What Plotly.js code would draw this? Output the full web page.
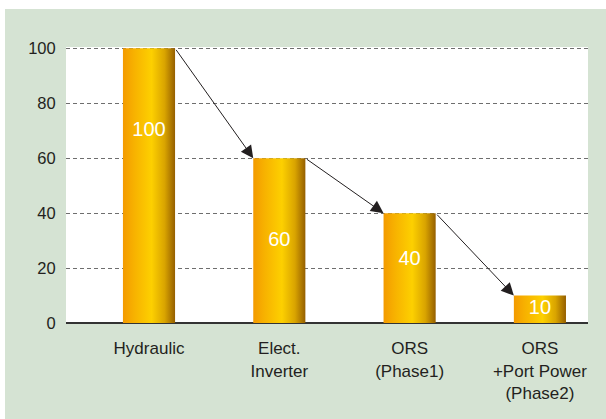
<!DOCTYPE html>
<html>
<head>
<meta charset="utf-8">
<script src="https://cdn.plot.ly/plotly-3.0.1.min.js"></script>
<style>
  html, body { margin: 0; padding: 0; background: #ffffff; width: 606px; height: 419px; overflow: hidden; }
  #chart { position: absolute; left: 5px; top: 9px; width: 601px; height: 410px; }
</style>
</head>
<body>
<div id="chart"></div>
<script>
// Data
const categories = ['Hydraulic', 'Elect.<br>Inverter', 'ORS<br>(Phase1)', 'ORS<br>+Port Power<br>(Phase2)'];
const values = [100, 60, 40, 10];
const labels = ['100', '60', '40', '10'];
const labelPos = [70, 30, 23, 5];
const yTicks = [0, 20, 40, 60, 80, 100];

const halfW = 0.2;
const fontFam = '"Liberation Sans", Arial, Helvetica, sans-serif';
const ink = '#231f20';

const traces = [];
values.forEach((v, i) => {
  traces.push({
    type: 'scatter',
    mode: 'lines',
    x: [i - halfW, i + halfW, i + halfW, i - halfW, i - halfW],
    y: [0, 0, v, v, 0],
    fill: 'toself',
    line: { width: 0, color: 'rgba(0,0,0,0)' },
    fillgradient: {
      type: 'horizontal',
      colorscale: [[0, '#f39a00'], [0.2, '#f7b000'], [0.55, '#fdd000'], [0.8, '#d9a400'], [1, '#955f00']]
    },
    hoverinfo: 'skip',
    showlegend: false
  });
});
traces.push({
  type: 'scatter',
  mode: 'text',
  x: values.map((v, i) => i),
  y: labelPos,
  text: labels,
  textfont: { family: fontFam, size: 20, color: '#ffffff' },
  textposition: 'middle center',
  hoverinfo: 'skip',
  showlegend: false
});

const annotations = [];
for (let i = 0; i < values.length - 1; i++) {
  annotations.push({
    x: i + 1 - halfW, y: values[i + 1],
    ax: i + halfW, ay: values[i],
    xref: 'x', yref: 'y', axref: 'x', ayref: 'y',
    text: '', showarrow: true,
    arrowhead: 2, arrowsize: 2.5, arrowwidth: 1, arrowcolor: ink,
    standoff: 0, startstandoff: 0
  });
}

const layout = {
  width: 601, height: 410,
  margin: { l: 61, r: 18, t: 38, b: 96 },
  paper_bgcolor: '#d5e3d3',
  plot_bgcolor: '#ffffff',
  showlegend: false,
  font: { family: fontFam, color: ink },
  xaxis: {
    range: [-0.637, 3.369],
    tickvals: [0, 1, 2, 3],
    ticktext: categories,
    tickfont: { family: fontFam, size: 17, color: ink },
    showgrid: false, zeroline: false, showline: false,
    ticks: 'outside', ticklen: 10, tickcolor: 'rgba(0,0,0,0)',
    fixedrange: true
  },
  yaxis: {
    range: [0, 100.5],
    tickvals: yTicks,
    tickfont: { family: fontFam, size: 16.5, color: ink },
    showgrid: true, gridcolor: '#6e6e6e', gridwidth: 1, griddash: '4px,3px',
    zeroline: true, zerolinecolor: '#333333', zerolinewidth: 1.5,
    showline: false,
    ticks: 'outside', ticklen: 6, tickcolor: 'rgba(0,0,0,0)',
    fixedrange: true
  },
  annotations: annotations
};

Plotly.newPlot('chart', traces, layout, { displayModeBar: false, staticPlot: true });
</script>
</body>
</html>
